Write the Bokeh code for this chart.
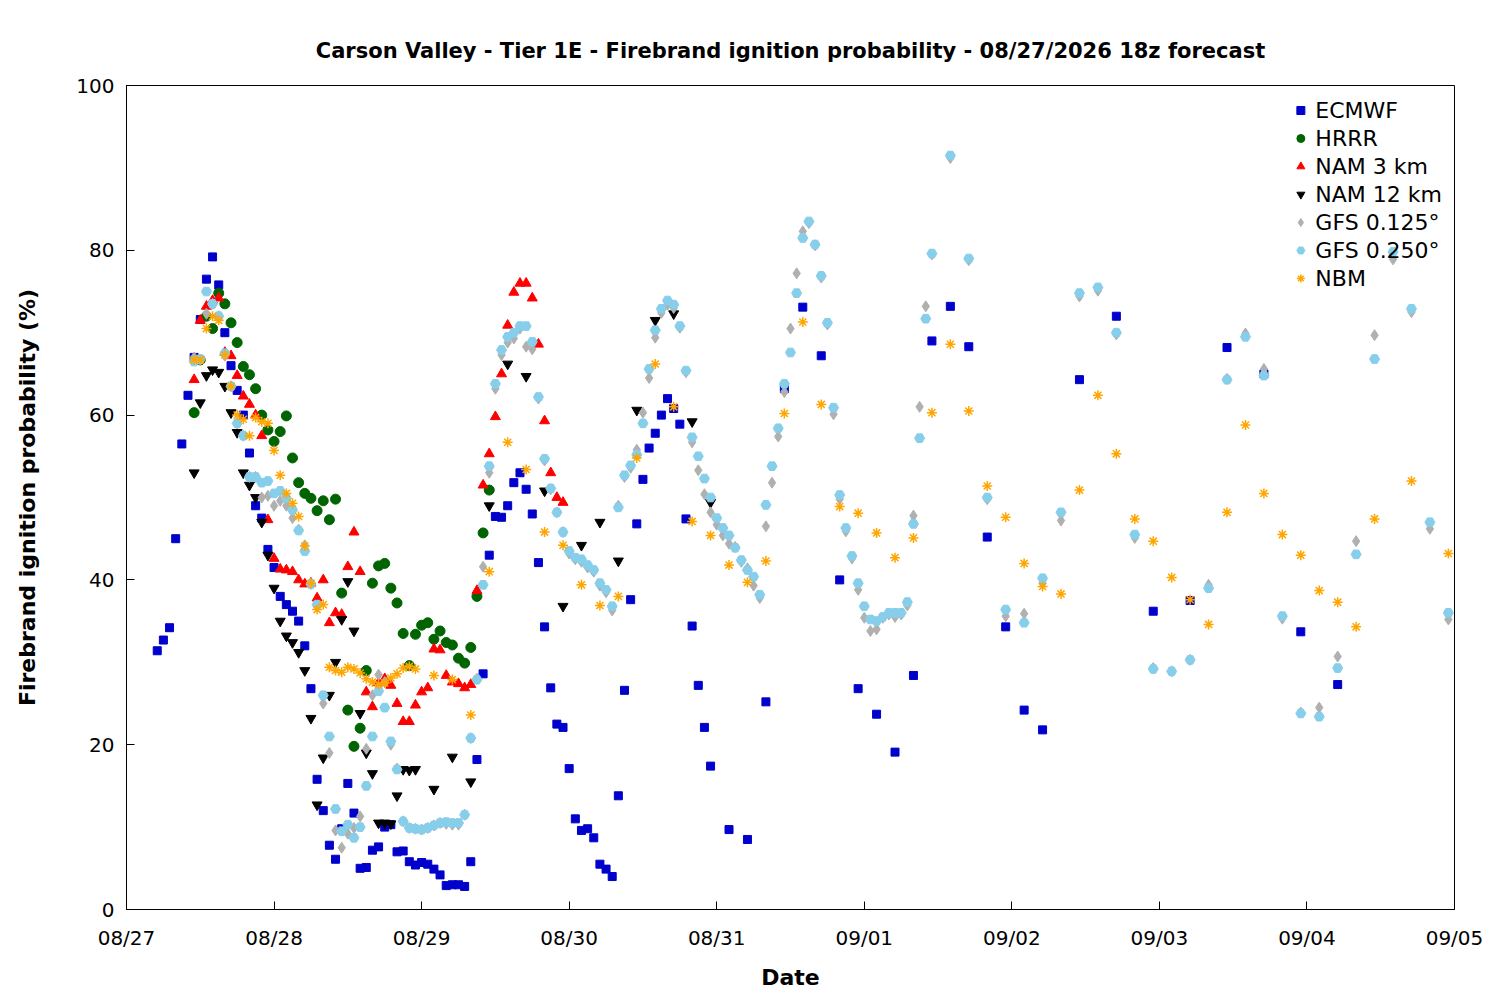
import numpy as np
from bokeh.plotting import figure
from bokeh.models import Range1d, FixedTicker, Legend
from bokeh.embed import file_html
from bokeh.resources import INLINE

# hours since 08/27 00z
tick_hours = [0, 24, 48, 72, 96, 120, 144, 168, 192, 216]
tick_labels = ["08/27", "08/28", "08/29", "08/30", "08/31", "09/01", "09/02", "09/03", "09/04", "09/05"]

ecmwf_t = np.concatenate([np.arange(5, 96), np.arange(98, 150, 3), np.arange(155, 198, 6)])
ecmwf_v = [31.4, 32.7, 34.2, 45, 56.5, 62.4, 67, 71.6, 76.5, 79.2, 75.8, 70, 66, 63, 60, 55.4, 49, 47.5, 43.7, 41.5,
           38, 37, 36.2, 35, 32, 26.8, 15.8, 12, 7.8, 6.1, 9.8, 15.3, 11.7, 5, 5.1, 7.2, 7.6, 10, 10.3, 7,
           7.1, 5.8, 5.4, 5.7, 5.5, 4.9, 4.2, 2.9, 3, 3, 2.8, 5.8, 18.2, 28.6, 43, 47.7, 47.6, 49, 51.8, 53,
           51, 48, 42.1, 34.3, 26.9, 22.5, 22.1, 17.1, 11, 9.6, 9.8, 8.7, 5.5, 4.9, 4, 13.8, 26.6, 37.6, 46.8, 52.2,
           56, 57.8, 60, 62, 60.8, 58.9, 47.4, 34.4, 27.2, 22.1, 17.4,
           9.7, 8.5, 25.2, 63.2, 73.1, 67.2, 40, 26.8, 23.7, 19.1, 28.4, 69, 73.2, 68.3, 45.2, 34.3, 24.2, 21.8,
           64.3, 72, 36.2, 37.5, 68.2, 65, 33.7, 27.3]

hrrr_t = np.arange(11, 60)
hrrr_v = [60.3, 66.7, 72, 70.5, 74.8, 73.5, 71.2, 68.8, 65.9, 64.9, 63.2, 60, 58.2, 56.8, 58, 59.9, 54.8, 51.8, 50.5, 49.9,
          48.4, 49.6, 47.3, 49.8, 38.4, 24.2, 19.8, 22, 29, 39.6, 41.7, 42, 39, 37.2, 33.5, 29.6, 33.4, 34.5, 34.8, 32.8,
          33.8, 32.4, 32.1, 30.5, 29.9, 31.8, 38, 45.7, 50.9]

nam3_t = np.arange(11, 72)
nam3_v = [64.3, 71.5, 73.2, 73.9, 74.2, 67.6, 67.2, 64.8, 62.3, 61.3, 60, 57.5, 47.3, 42.6, 41.3, 41.2, 41, 40, 39.5, 39.6,
          37.8, 40, 34.8, 36, 35.8, 41.6, 45.8, 41, 26.4, 24.6, 27.5, 28, 27.2, 25, 22.8, 22.8, 24.8, 26.4, 26.9, 31.6,
          31.5, 28.4, 27.6, 27.4, 26.9, 27.3, 38.7, 51.5, 55.3, 59.8, 65, 70.9, 74.9, 76, 76, 74.2, 68.6, 59.3, 53, 50,
          49.4]

nam12_t = np.concatenate([np.arange(11, 48), np.arange(50, 96, 3)])
nam12_v = [53, 61.5, 64.8, 65.5, 65.2, 63.5, 60.3, 57.9, 53, 51.5, 50, 47, 43, 39, 35, 33.2, 32.4, 31.2, 29, 23.2,
           12.7, 18.4, 26, 30, 35.2, 39.8, 33.8, 23.8, 19, 16.5, 10.5, 10.5, 10.4, 13.8, 17, 16.9, 17,
           14.6, 18.5, 15.5, 49, 66.2, 64.7, 50.8, 36.8, 44.2, 47, 42.3, 60.6, 71.5, 72.3, 59.2, 49.4]

gfs_t = np.concatenate([np.arange(11, 132), np.arange(134, 216, 3)])
gfs025_v = [66.5, 66.8, 75, 73.5, 72, 67.5, 63.5, 59, 57.5, 52.5, 52.5, 51.8, 52, 50.5, 50.8, 49.9, 48.5, 46, 43.5, 39.5,
            37, 26, 21, 12.2, 9.5, 10.3, 8.7, 10, 15, 21, 26.5, 24.5, 20.4, 17, 10.7, 9.9, 9.8, 9.7, 9.9, 10.2,
            10.5, 10.6, 10.5, 10.5, 11.5, 20.8, 27.9, 39.4, 53.8, 63.8, 67.9, 69.5, 70, 70.8, 70.8, 68.9, 62.2, 54.7, 51.1, 48.2,
            45.8, 43.5, 42.7, 42.5, 41.8, 41.2, 39.6, 38.8, 36.8, 48.8, 52.7, 53.9, 55.2, 59, 65.6, 70.3, 72.9, 73.9, 73.4, 70.8,
            65.4, 57.3, 55, 52.3, 50, 47.5, 46.3, 45.4, 43.9, 42.4, 41.2, 40.4, 38.2, 49.1, 53.8, 58.4, 63.8, 67.6, 74.8, 81.5,
            83.5, 80.7, 76.9, 71.2, 60.9, 50.3, 46.3, 42.9, 39.6, 36.8, 35.2, 35, 35.5, 36, 36, 36, 37.3, 46.8, 57.2, 71.7,
            79.6,
            91.5, 79, 50, 36.4, 34.8, 40.2, 48.2, 74.8, 75.5, 70, 45.5, 29.2, 28.9, 30.3, 39, 64.3, 69.5, 64.8, 35.6, 23.8,
            23.4, 29.3, 43.1, 66.8, 79.8, 72.9, 47, 36]
gfs0125_v = [67, 66.7, 72.3, 73.5, 72, 67.2, 63.5, 59, 57.5, 52.5, 52.5, 50, 50.2, 49, 49.6, 49, 47.5, 46.1, 44.2, 39.5,
             36.8, 25, 19, 9.6, 7.5, 9.2, 9.9, 11.3, 19.5, 26, 28.5, 27.6, 20, 17.1, 10.7, 9.9, 9.8, 9.7, 9.9, 10.2,
             10.5, 10.4, 10.3, 10.3, 11.5, 20.8, 28, 41.6, 53, 63.2, 67.3, 68.8, 69.3, 70.5, 68.3, 68, 62, 54.5, 51, 48.2,
             45.8, 43.2, 42.5, 42.2, 41.5, 41, 39.3, 38.5, 36.3, 49, 52.5, 53.6, 55.8, 60.3, 64.5, 69.4, 72.4, 73.4, 73, 70.6,
             65.2, 56.7, 53.3, 50.4, 48.2, 46.7, 45.4, 44.4, 44, 42.2, 41.4, 39.3, 37.8, 46.5, 51.8, 57.4, 62.8, 70.5, 77.2, 82.3,
             83.3, 80.6, 76.7, 71, 60.1, 49.8, 45.9, 42.6, 38.8, 35.4, 33.8, 34, 35.4, 35.8, 35.5, 35.8, 36.9, 47.8, 61, 73.2,
             79.5,
             91.2, 78.8, 49.8, 35.6, 35.9, 39.6, 47.2, 74.4, 75.1, 69.8, 45.1, 29.3, 28.9, 30.3, 39.4, 64.4, 69.9, 65.6, 35.3, 23.9,
             24.5, 30.7, 44.7, 69.7, 78.9, 72.5, 46.2, 35.2]

nbm_t = np.concatenate([np.arange(11, 48), np.arange(50, 204, 3), [209, 215]])
nbm_v = [66.7, 66.7, 70.5, 72, 71.5, 67.3, 63.5, 60, 59.5, 57.5, 59.7, 59.2, 59, 55.7, 52.7, 50.5, 49.3, 47.7, 44.1, 39.6,
         36.4, 37, 29.4, 29, 28.8, 29.4, 29.2, 28.7, 28, 27.6, 27.3, 27.5, 28.1, 28.6, 29.3, 29.5, 29.2,
         28.4, 27.9, 23.6, 41, 56.7, 53.4, 45.8, 44.2, 39.4, 36.9, 38, 54.8, 66.2, 61, 47.1, 45.4, 41.8, 39.7, 42.3, 60.2,
         71.3, 61.3, 48.9, 48.1, 45.7, 42.7, 45.1, 60.3, 68.6, 60.5, 51.4, 47.6, 42, 39.2, 38.3, 50.9, 62.4, 55.3, 47.4, 44.7,
         40.3, 37.6, 34.6, 48.2, 58.8, 50.5, 45.5, 43, 38.7, 37.3, 34.3, 47.4, 52, 43.2]

FONT = "DejaVu Sans"
p = figure(width=1492, height=992, output_backend="svg", toolbar_location=None,
           x_range=Range1d(0, 216), y_range=Range1d(0, 100),
           min_border_left=126, min_border_right=38, min_border_top=85, min_border_bottom=82,
           title="Carson Valley - Tier 1E - Firebrand ignition probability - 08/27/2026 18z forecast")
p.title.align = "center"
p.title.text_font = FONT
p.title.text_font_size = "21px"
p.title.text_color = "black"
p.title.offset = 0
p.title.standoff = 45
p.xgrid.visible = False
p.ygrid.visible = False
p.outline_line_color = "black"
p.xaxis.axis_label = "Date"
p.yaxis.axis_label = "Firebrand ignition probability (%)"
for ax in (p.xaxis[0], p.yaxis[0]):
    ax.axis_label_text_font = FONT
    ax.axis_label_text_font_style = "bold"
    ax.axis_label_text_font_size = "22px"
    ax.axis_label_text_color = "black"
    ax.major_label_text_font = FONT
    ax.major_label_text_font_size = "20px"
    ax.major_label_text_color = "black"
    ax.axis_line_color = "black"
    ax.major_tick_line_color = "black"
    ax.major_tick_in = 8
    ax.major_tick_out = 0
    ax.minor_tick_line_color = None
p.xaxis.major_label_standoff = 16
p.xaxis.axis_label_standoff = 12
p.yaxis.major_label_standoff = 12
p.yaxis.axis_label_standoff = 33
p.xaxis.ticker = FixedTicker(ticks=tick_hours)
p.xaxis.major_label_overrides = {h: l for h, l in zip(tick_hours, tick_labels)}
p.yaxis.ticker = FixedTicker(ticks=[0, 20, 40, 60, 80, 100])

r1 = p.scatter(ecmwf_t, ecmwf_v, marker="square", size=8, color="#0000cc")
r2 = p.scatter(hrrr_t, hrrr_v, marker="circle", size=10, color="#006400")
r3 = p.scatter(nam3_t, nam3_v, marker="triangle", size=10, color="#ff0000")
r4 = p.scatter(nam12_t, nam12_v, marker="inverted_triangle", size=10, color="black")
r5 = p.scatter(gfs_t, gfs0125_v, marker="diamond", size=11, color="#b0b0b0")
r6 = p.scatter(gfs_t, gfs025_v, marker="hex", size=10, color="#87ceeb")
r7 = p.scatter(nbm_t, nbm_v, marker="asterisk", size=10, line_color="#ffa500", line_width=1.5)

legend = Legend(items=[("ECMWF", [r1]), ("HRRR", [r2]), ("NAM 3 km", [r3]), ("NAM 12 km", [r4]),
                       ("GFS 0.125°", [r5]), ("GFS 0.250°", [r6]), ("NBM", [r7])],
                location="top_right", background_fill_alpha=0, border_line_color=None,
                label_text_font=FONT, label_text_font_size="22px", label_text_color="black",
                spacing=2, label_height=26, glyph_height=26, glyph_width=20, margin=12)
p.add_layout(legend)

open("out.html", "w").write(file_html(p, INLINE))
